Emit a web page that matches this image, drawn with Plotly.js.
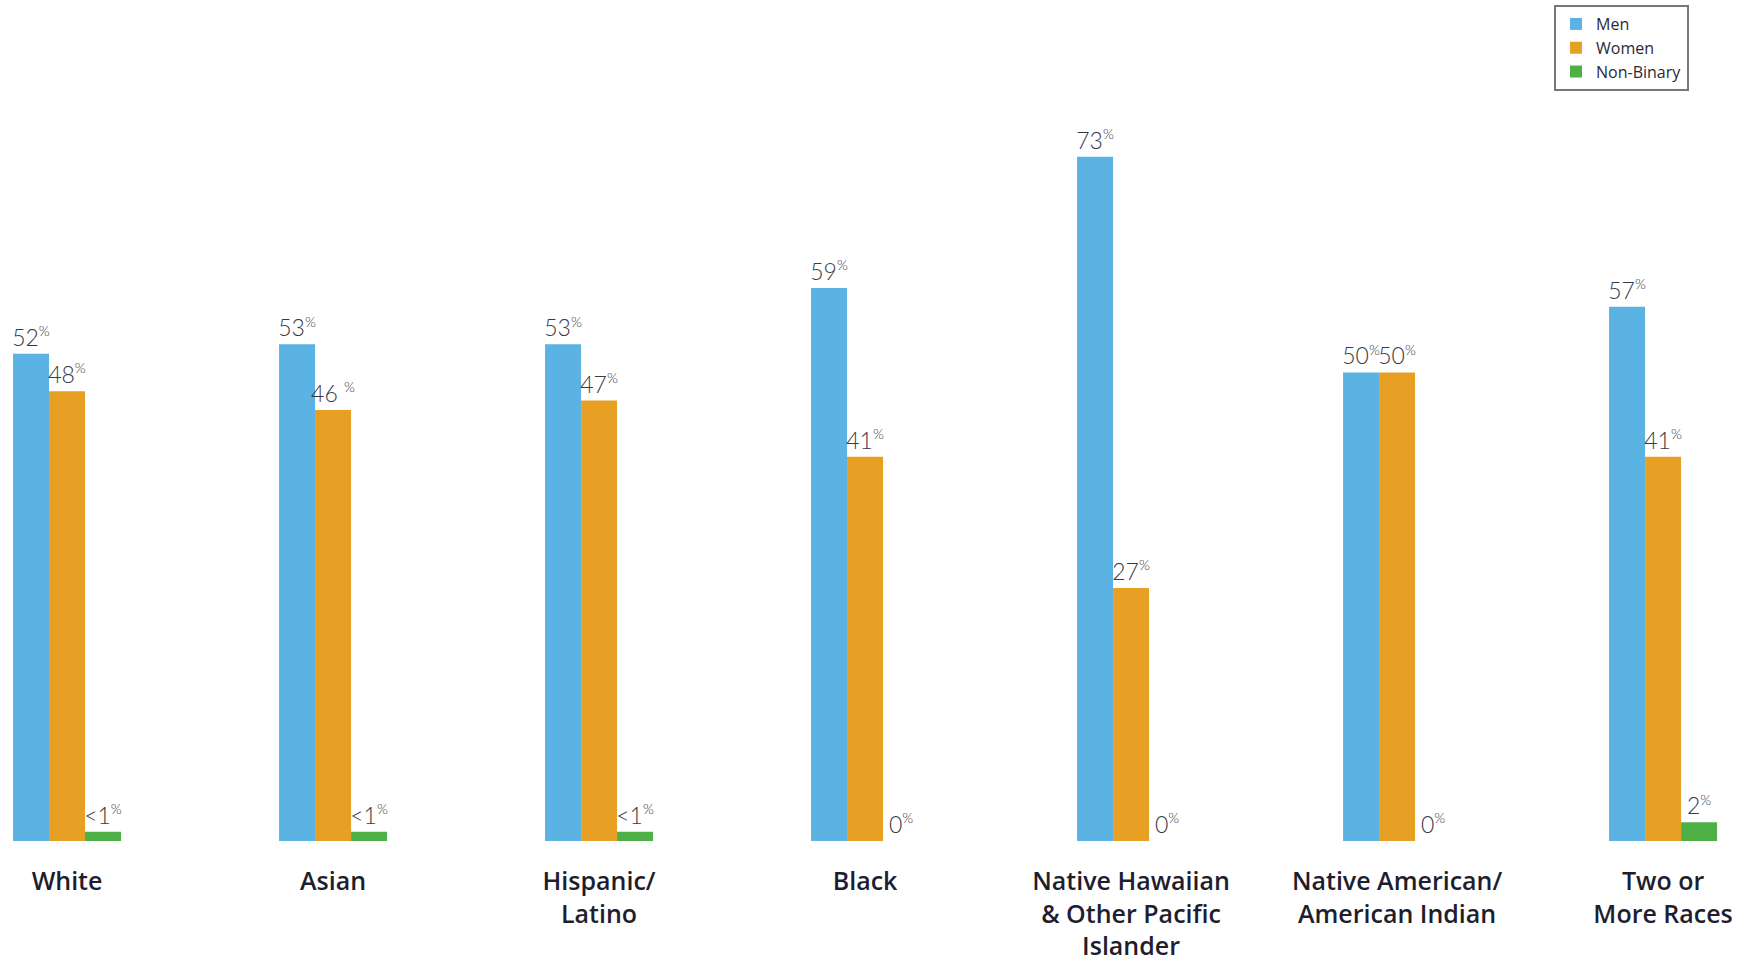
<!DOCTYPE html>
<html>
<head>
<meta charset="utf-8">
<script src="https://cdn.plot.ly/plotly-3.0.1.min.js"></script>
<style>html,body{margin:0;padding:0;background:#fff;}#chart{width:1741px;height:962px;}</style>
</head>
<body>
<div id="chart"></div>
<script>
const categories = [
  "White",
  "Asian",
  "Hispanic/<br>Latino",
  "Black",
  "Native Hawaiian<br>& Other Pacific<br>Islander",
  "Native American/<br>American Indian",
  "Two or<br>More Races"
];
const men = [52, 53, 53, 59, 73, 50, 57];
const women = [48, 46, 47, 41, 27, 50, 41];
const nonBinary = [1, 1, 1, 0, 0, 0, 2];
const menLabels = ["52", "53", "53", "59", "73", "50", "57"];
const womenLabels = ["48", "46 ", "47", "41", "27", "50", "41"];
const nonBinaryLabels = ["<1", "<1", "<1", "0", "0", "0", "2"];

const sup = s => s.replace(/</g, "&lt;") + "<sup><span style=\"font-size:14px\">%</span></sup>";
const labelFont = {family: "Lato, 'Open Sans', sans-serif", size: 23, color: "#383846", weight: 300};

function barTrace(name, values, labels, color) {
  return {
    type: "bar",
    name: name,
    x: categories,
    y: values,
    text: labels.map(sup),
    textposition: "outside",
    textfont: labelFont,
    constraintext: "none",
    cliponaxis: false,
    marker: {color: color},
    hoverinfo: "skip"
  };
}

const data = [
  barTrace("Men", men, menLabels, "#5bb3e3"),
  barTrace("Women", women, womenLabels, "#e8a024"),
  barTrace("Non-Binary", nonBinary, nonBinaryLabels, "#50b048")
];

const layout = {
  width: 1741,
  height: 962,
  margin: {l: 0, r: 0, t: 5, b: 121, pad: 0},
  paper_bgcolor: "#ffffff",
  plot_bgcolor: "#ffffff",
  barmode: "group",
  bargap: 0.594,
  bargroupgap: 0,
  showlegend: true,
  legend: {
    x: 0.8926, y: 1, xanchor: "left", yanchor: "top",
    orientation: "v",
    bgcolor: "#ffffff",
    bordercolor: "#77777f",
    borderwidth: 2,
    font: {family: "'Open Sans', Lato, sans-serif", size: 16, color: "#2a2a3a"},
    itemwidth: 30
  },
  xaxis: {
    type: "category",
    range: [-0.252, 6.293],
    showgrid: false,
    showline: false,
    zeroline: false,
    ticks: "",
    ticklabelstandoff: 23,
    tickfont: {family: "'Open Sans', Lato, sans-serif", size: 25, color: "#1e1e2e", weight: 600},
    fixedrange: true
  },
  yaxis: {
    range: [0, 89.2],
    visible: false,
    showgrid: false,
    zeroline: false,
    fixedrange: true
  }
};

Plotly.newPlot("chart", data, layout, {displayModeBar: false, staticPlot: true});
</script>
</body>
</html>
